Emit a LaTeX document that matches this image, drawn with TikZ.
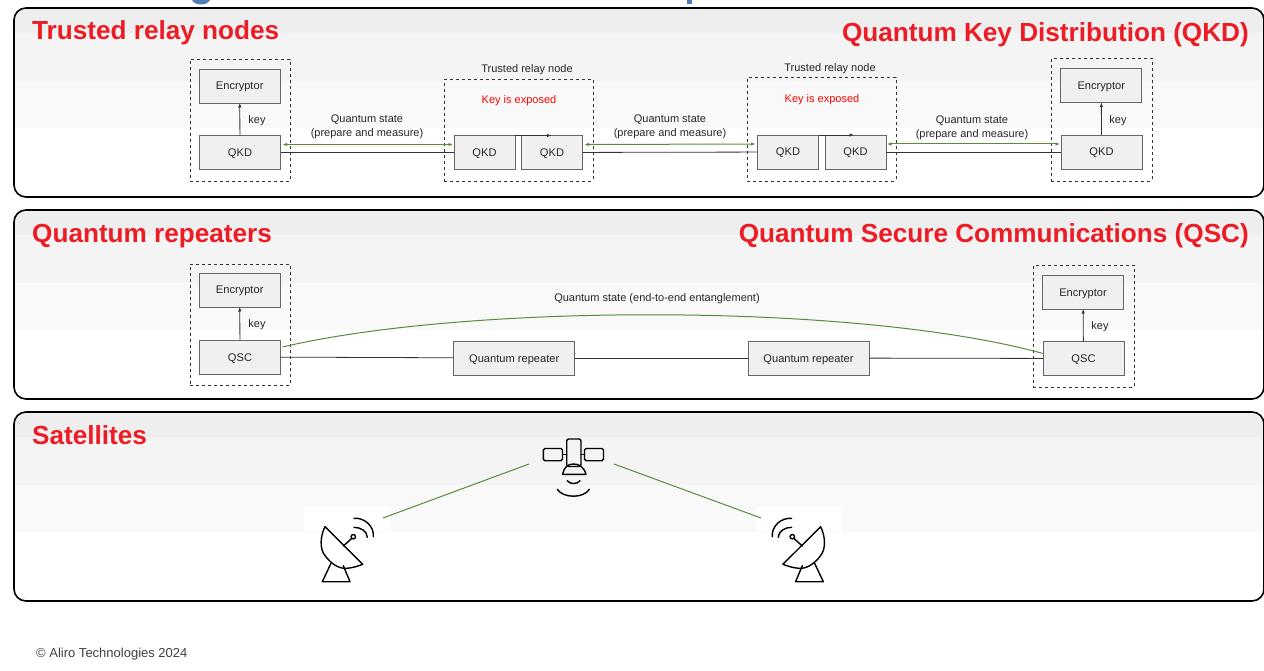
\documentclass[tikz,border=0pt]{standalone}
\usepackage{fontspec}
\setmainfont{Liberation Sans}
\usetikzlibrary{calc, positioning, arrows.meta}
\definecolor{headred}{HTML}{ED1C24}
\definecolor{linkgreen}{HTML}{5B8A3C}
\definecolor{boxgray}{HTML}{666666}
\definecolor{titleblue}{HTML}{4F7DB3}
\tikzset{
  panel/.style={draw=black, line width=1.6pt, rounded corners=12pt},
  head/.style={text=headred, font=\fontsize{26.15}{28}\selectfont\bfseries, inner sep=0pt, yshift=-2.5pt},
  lab/.style={font=\fontsize{11}{14}\selectfont, text=black!85, inner sep=0pt, align=center, yshift=-1.8pt},
  unit/.style={draw=boxgray, fill=black!6, line width=.8pt, inner sep=0pt, outer sep=0pt, font=\fontsize{11.1}{14}\selectfont, text=black!85, text height=10pt, text depth=2pt},
  enc/.style={unit, minimum width=81pt, minimum height=34pt},
  qkd/.style={unit, minimum width=61pt, minimum height=34pt},
  rep/.style={unit, minimum width=121pt, minimum height=34pt},
  group/.style={draw=black!80, dashed, line width=.6pt, inner sep=0pt, outer sep=0pt},
  link/.style={draw=black!80, line width=.8pt},
  qlink/.style={draw=linkgreen, line width=1pt},
  icon/.style={draw=black, line width=1.4pt, line cap=round, line join=round},
  dish/.pic={
    \draw[icon] (-14.3,-17.3) .. controls (-19,-8) and (-20,5) .. (-14,12) .. controls (-8,20) and (0,25) .. (7.4,24.3) .. controls (13,24) and (19,22) .. (23.4,20.3) -- cycle;
    \draw[icon] (-8.3,19.3) -- (-17,37.7) -- (10.7,37.7) -- (4,21.7);
    \draw[icon] (4,2) -- (12.3,-5.5);
    \draw[icon] (14,-7.3) circle (2.2);
    \draw[icon] (14.7,-16.7) .. controls (21,-16.7) and (28,-13) .. (28,-6.7);
    \draw[icon] (14.7,-25.7) .. controls (25,-26.5) and (35,-18) .. (34,-7.3);
  },
}
\begin{document}
\begin{tikzpicture}[x=1pt, y=-1pt, >={Latex[length=4.5pt,width=3.5pt]}]
\useasboundingbox (0,0) rectangle (1264,671);
% panels
\foreach \py in {8,210,412}{
  \begin{scope}
    \clip[rounded corners=12pt] (14,\py) rectangle (1264,\py+189);
    \fill[black!6.5] (14,\py) rectangle (1264,\py+25);
    \fill[black!4.5] (14,\py+25) rectangle (1264,\py+73);
    \fill[black!2.5] (14,\py+73) rectangle (1264,\py+120);
  \end{scope}
  \draw[panel] (14,\py) rectangle (1264,\py+189);
}
\fill[titleblue] (192,0) .. controls (195,6) and (207,6) .. (210,0) -- cycle;
\fill[titleblue] (687,0) rectangle (692,4);
\node[head, anchor=west] (headA) at (32,30.5) {Trusted relay nodes};
\node[head, anchor=east] (headB) at (1249,32) {Quantum Key Distribution (QKD)};
\node[head, anchor=west] (headC) at (32,234) {Quantum repeaters};
\node[head, anchor=east] (headD) at (1249,233) {Quantum Secure Communications (QSC)};
\node[head, anchor=west] (headE) at (32,433) {Satellites};
% trusted relay row
\node[group, minimum width=100pt, minimum height=122pt] (groupA) at (240,120) {};
\node[group, minimum width=148.5pt, minimum height=101.5pt] (groupB) at (518.7,130.2) {};
\node[group, minimum width=148.5pt, minimum height=103.5pt] (groupC) at (821.7,129.2) {};
\node[group, minimum width=100.5pt, minimum height=122.5pt] (groupD) at (1101.7,119.7) {};
\node[enc] (encA) at (239.7,86) {Encryptor};
\node[enc] (encD) at (1101.3,85.5) {Encryptor};
\node[qkd, minimum width=81pt] (qkdA) at (240,152.5) {QKD};
\node[qkd] (qkdB) at (484.5,152.5) {QKD};
\node[qkd] (qkdC) at (552,152.5) {QKD};
\node[qkd] (qkdD) at (788,152) {QKD};
\node[qkd] (qkdE) at (855.5,152) {QKD};
\node[qkd, minimum width=81pt] (qkdF) at (1101.5,152) {QKD};
\node[lab] (keyA) at (257,119) {key};
\node[lab] (keyD) at (1118,119) {key};
\node[lab] (stateA) at (367,125) {Quantum state\\(prepare and measure)};
\node[lab] (stateB) at (670,125) {Quantum state\\(prepare and measure)};
\node[lab] (stateC) at (972,126) {Quantum state\\(prepare and measure)};
\node[lab] (relayA) at (527,68) {Trusted relay node};
\node[lab] (relayB) at (830,67) {Trusted relay node};
\node[lab, text=red] (exposedA) at (519,99) {Key is exposed};
\node[lab, text=red] (exposedB) at (822,98) {Key is exposed};
\draw[link, ->] (qkdA) -- (encA);
\draw[link, ->] (qkdF) -- (encD);
\draw[link] (qkdA) -- (qkdB);
\draw[link] (qkdC) -- (qkdD);
\draw[link] (qkdE) -- (qkdF);
\draw[link, ->] (qkdB.north east) -- ([xshift=30pt]qkdC.north west);
\draw[link, ->] (qkdD.north east) -- ([xshift=29pt]qkdE.north west);
\draw[qlink, <->] ([xshift=2pt,yshift=8pt]qkdA.east) -- ([xshift=-1pt,yshift=8pt]qkdB.west);
\draw[qlink, <->] ([xshift=2pt,yshift=8pt]qkdC.east) -- ([xshift=-2pt,yshift=8pt]qkdD.west);
\draw[qlink, <->] ([xshift=1pt,yshift=8pt]qkdE.east) -- ([xshift=-1pt,yshift=8pt]qkdF.west);
% repeater row
\node[group, minimum width=100pt, minimum height=121pt] (groupE) at (240,324.5) {};
\node[group, minimum width=101pt, minimum height=121.5pt] (groupF) at (1083.5,326.2) {};
\node[enc] (encE) at (239.7,290) {Encryptor};
\node[enc] (encF) at (1083,292) {Encryptor};
\node[qkd, minimum width=81pt] (qscA) at (240,357) {QSC};
\node[qkd, minimum width=81pt] (qscB) at (1083.5,358.5) {QSC};
\node[rep] (repA) at (514.2,358) {Quantum repeater};
\node[rep] (repB) at (808.5,358) {Quantum repeater};
\node[lab] (keyE) at (257,323) {key};
\node[lab] (keyF) at (1100,325) {key};
\node[lab] (stateD) at (657,297) {Quantum state (end-to-end entanglement)};
\draw[link, ->] (qscA) -- (encE);
\draw[link, ->] (qscB) -- (encF);
\draw[link] (qscA) -- (repA);
\draw[link] (repA) -- (repB);
\draw[link] (repB) -- (qscB);
\draw[qlink] ([xshift=2pt,yshift=10pt]qscA.east) .. controls (470,303) and (860,303) .. ([yshift=5pt]qscB.west);
% satellites
\fill[white] (304,507) rectangle (390,531);
\fill[white] (756,507) rectangle (842,531);
\coordinate (dishL) at (339.3,544);
\coordinate (dishR) at (806.3,544);
\coordinate (satL) at (529,464);
\coordinate (satR) at (614,464);
\coordinate (dishLend) at (383,518);
\coordinate (dishRend) at (761,518);
\pic at (dishL) {dish};
\pic[xscale=-1] at (dishR) {dish};
\draw[icon, rounded corners=2pt] (566.7,439) rectangle (581,466.5);
\draw[icon, rounded corners=1.5pt] (543.3,448.5) rectangle (562.5,460.7);
\draw[icon, rounded corners=1.5pt] (584.5,448.5) rectangle (603.5,460.7);
\draw[icon] (562.5,454.6) -- (566.7,454.6);
\draw[icon] (581,454.6) -- (584.5,454.6);
\draw[icon] (562.7,474.3) .. controls (564,467) and (568,464) .. (573.5,464) .. controls (579,464) and (584,467) .. (586,474.3) -- cycle;
\draw[icon] (567.3,480.7) .. controls (570,484.5) and (577,484.5) .. (580,480.7);
\draw[icon] (557.3,489.3) .. controls (563,498.5) and (584,498.5) .. (589.3,489.3);
\draw[qlink] (dishLend) -- (satL);
\draw[qlink] (satR) -- (dishRend);
\node[font=\fontsize{13}{15}\selectfont, text=black!75, anchor=west, inner sep=0pt, yshift=-1.5pt] (footer) at (36,653) {© Aliro Technologies 2024};
\end{tikzpicture}
\end{document}
